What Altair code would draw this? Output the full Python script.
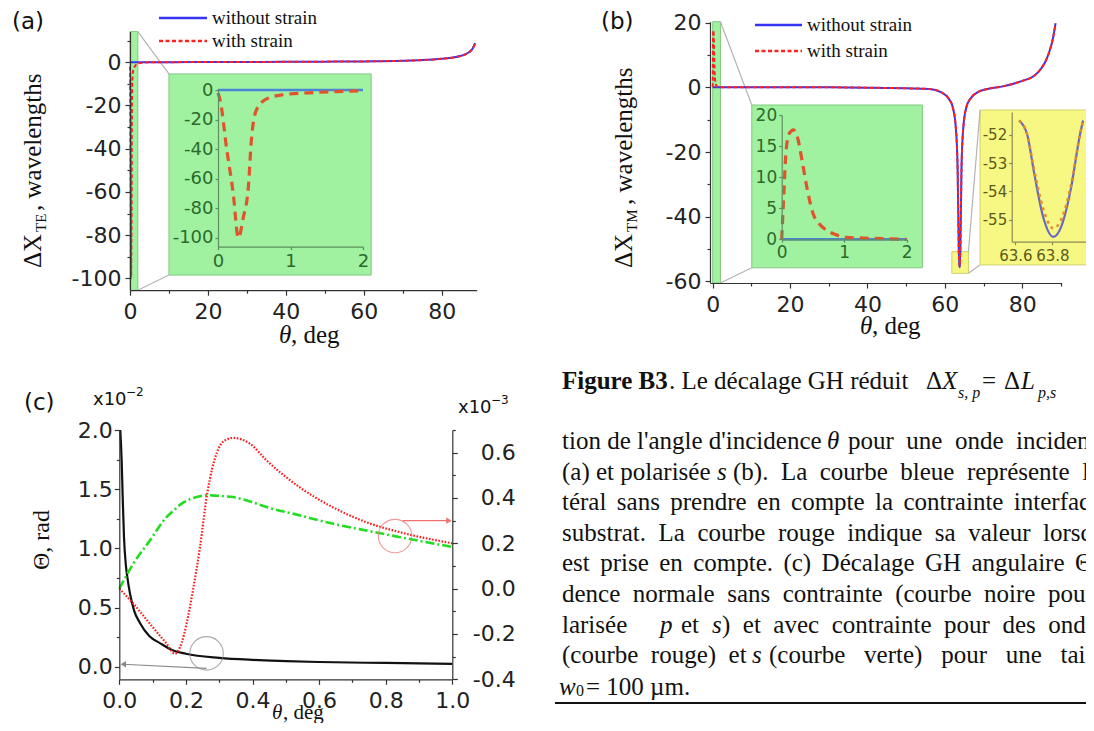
import altair as alt
import pandas as pd

W, H = 1078, 715
M = 8
SANS = "DejaVu Sans"
SERIF = "Liberation Serif"

# ---------------- data ----------------
# (a) TE polarisation
a_theta = [0, 0.03, 0.12, 0.21, 0.28, 0.35, 0.42, 0.46, 0.53, 0.67, 0.9, 1.36, 2,
           5, 10, 20, 30, 40, 50, 60, 70, 75, 80, 83, 85, 86, 87, 88, 88.6]
a_nostrain = [0, 0, 0, 0, 0, 0, 0, 0, 0, 0, 0, 0, 0,
              0, 0.05, 0.1, 0.15, 0.2, 0.3, 0.4, 0.7, 1.0, 1.6, 2.2, 3.0, 3.6, 4.6, 6.5, 8.9]
a_strain = [-2, -7, -40, -70, -100, -86, -65, -34, -13.5, -6, -3.2, -1.6, -0.5,
            0, 0.05, 0.1, 0.15, 0.2, 0.3, 0.4, 0.7, 1.0, 1.6, 2.2, 3.0, 3.6, 4.6, 6.5, 8.9]

# (b) TM polarisation
b_theta = [0, 0.03, 0.07, 0.12, 0.19, 0.25, 0.32, 0.4, 0.5, 0.6, 0.71, 0.85, 1.03, 1.3, 1.6, 2.0,
           5, 10, 20, 30, 40, 50, 56, 59, 61, 62, 62.8, 63.3, 63.6, 63.62, 63.664, 63.7, 63.75,
           63.805, 63.85, 63.9, 63.949, 63.966, 64.0, 64.3, 64.8, 65.6, 66.6, 68.5, 71,
           75, 80, 83, 85, 86, 87, 88, 88.6]
b_nostrain = [0, 0, 0, 0, 0, 0, 0, 0, 0, 0, 0, 0, 0, 0, 0, 0,
              0, 0, 0, 0, -0.1, -0.3, -0.5, -1.5, -3.5, -6, -12, -25, -50.6, -51.5, -52.0, -53.3, -54.9,
              -55.6, -55.2, -53.9, -52.0, -51.5, -50.5, -25, -12, -6, -3.5, -1.5, -0.5,
              0.3, 2.0, 3.5, 6.0, 8.0, 11.0, 15.5, 19.8]
b_strain = [0, 6.3, 14.3, 17.0, 17.6, 16.5, 13.0, 8.5, 4.2, 2.5, 1.5, 0.8, 0.3, 0.2, 0.1, 0,
            0, 0, 0, 0, -0.1, -0.3, -0.5, -1.5, -3.5, -6, -12, -25, -50.6, -51.5, -52.0, -53.2, -54.6,
            -55.3, -54.95, -53.8, -52.0, -51.5, -50.5, -25, -12, -6, -3.5, -1.5, -0.5,
            0.3, 2.0, 3.5, 6.0, 8.0, 11.0, 15.5, 19.8]

# (c) angular GH shift
c_theta0 = [0.003, 0.007, 0.01, 0.014, 0.02, 0.025, 0.032, 0.045, 0.062, 0.09, 0.122, 0.16,
            0.2, 0.3, 0.4, 0.5, 0.6, 0.8, 1.0]
c_nostrain = [2.0, 1.75, 1.45, 1.1, 0.85, 0.74, 0.62, 0.47, 0.37, 0.26, 0.2, 0.14,
              0.11, 0.075, 0.058, 0.048, 0.04, 0.032, 0.025]          # x10^-2 rad
c_theta = [0, 0.042, 0.092, 0.142, 0.167, 0.187, 0.202, 0.222, 0.242, 0.264, 0.293, 0.313,
           0.342, 0.392, 0.442, 0.54, 0.64, 0.74, 0.84, 1.0]
c_p_strain = [0.0, -0.066, -0.155, -0.243, -0.287, -0.24, -0.155, 0.0, 0.18, 0.42, 0.6, 0.65,
              0.665, 0.64, 0.566, 0.449, 0.36, 0.294, 0.25, 0.2]      # x10^-3 rad
c_s_strain = [0.0, 0.11, 0.213, 0.316, 0.35, 0.375, 0.388, 0.4, 0.408, 0.412, 0.41, 0.408,
              0.404, 0.385, 0.36, 0.324, 0.287, 0.257, 0.228, 0.184]  # x10^-3 rad

a_ticks_x = [0, 20, 40, 60, 80]
a_ticks_y = [-100, -80, -60, -40, -20, 0]
b_ticks_y = [-60, -40, -20, 0, 20]
ai_ticks_y = [-100, -80, -60, -40, -20, 0]
bi_ticks_y = [0, 5, 10, 15, 20]
by_ticks_x = [63.6, 63.8]
by_ticks_y = [-55, -54, -53, -52]
c_ticks_x = [0, 0.2, 0.4, 0.6, 0.8, 1.0]
c_ticks_l = [0, 0.5, 1.0, 1.5, 2.0]
c_ticks_r = [-0.4, -0.2, 0.0, 0.2, 0.4, 0.6]

dfA = pd.DataFrame({"theta": a_theta, "nostrain": a_nostrain, "strain": a_strain})
dfB = pd.DataFrame({"theta": b_theta, "nostrain": b_nostrain, "strain": b_strain})
dfC0 = pd.DataFrame({"theta": c_theta0, "v": c_nostrain})
dfC = pd.DataFrame({"theta": c_theta, "p": c_p_strain, "s": c_s_strain})


def P(v):
    return v - M


def sc(d0, d1, r0, r1):
    return alt.Scale(domain=[d0, d1], range=[P(r0), P(r1)], zero=False, nice=False)


def ax(orient, pos, values, size=22, color="#222222", line="#333333", fmt="d",
       tick=5, pad=4, labels=True, domain=True, font=SANS, width=1.2, align=None):
    if orient == "bottom":
        off = P(pos) - H
    elif orient == "left":
        off = -P(pos)
    else:
        off = P(pos) - W
    kw = dict(orient=orient, offset=off, values=values, grid=False, title=None,
              labels=labels, domain=domain, ticks=True, tickSize=tick, tickColor=line,
              tickWidth=width, domainColor=line, domainWidth=width, labelFont=font,
              labelFontSize=size, labelColor=color, labelPadding=pad, labelFlush=False,
              labelOverlap=False, zindex=1,
              labelExpr="replace(format(datum.value, '%s'), '\u2212', '-')" % fmt)
    if align:
        kw["labelAlign"] = align
    return alt.Axis(**kw)


def line(df, ycol, xs, ys, color, width=2, dash=None, filt=None, xaxis=None, yaxis=None,
         interp="monotone"):
    mk = dict(color=color, strokeWidth=width, interpolate=interp)
    if dash:
        mk["strokeDash"] = dash
    ch = alt.Chart(df).mark_line(**mk)
    if filt is not None:
        ch = ch.transform_filter(filt)
    return ch.encode(x=alt.X("theta:Q", scale=xs, axis=xaxis),
                     y=alt.Y(ycol + ":Q", scale=ys, axis=yaxis))


def axis_only(xs, ys, xaxis=None, yaxis=None, xv=0, yv=0):
    d = pd.DataFrame({"x": [xv], "y": [yv]})
    return alt.Chart(d).mark_point(opacity=0).encode(
        x=alt.X("x:Q", scale=xs, axis=xaxis), y=alt.Y("y:Q", scale=ys, axis=yaxis))


def rects(df, xs, ys, fill, stroke):
    return alt.Chart(df).mark_rect(fill=fill, stroke=stroke, strokeWidth=1).encode(
        x=alt.X("x:Q", scale=xs, axis=None), x2="x2:Q",
        y=alt.Y("y:Q", scale=ys, axis=None), y2="y2:Q")


def segs(df, xs, ys, color, width=1.2):
    return alt.Chart(df).mark_rule(color=color, strokeWidth=width).encode(
        x=alt.X("x:Q", scale=xs, axis=None), x2="x2:Q",
        y=alt.Y("y:Q", scale=ys, axis=None), y2="y2:Q")


def T(s, x, y, size, font=SERIF, color="#111111", align="left", italic=False, bold=False,
      angle=0, baseline="middle"):
    mk = dict(text=s, font=font, fontSize=size, color=color, align=align, baseline=baseline)
    if italic:
        mk["fontStyle"] = "italic"
    if bold:
        mk["fontWeight"] = "bold"
    if angle:
        mk["angle"] = angle
    return alt.Chart(pd.DataFrame({"k": [0]})).mark_text(**mk).encode(
        x=alt.value(P(x)), y=alt.value(P(y)))


def hrule(x1, x2, y, color, width=2, dash=None):
    mk = dict(color=color, strokeWidth=width)
    if dash:
        mk["strokeDash"] = dash
    return alt.Chart(pd.DataFrame({"k": [0]})).mark_rule(**mk).encode(
        x=alt.value(P(x1)), x2=alt.value(P(x2)), y=alt.value(P(y)))


def J(s, extra):
    # widen word gaps (justified text): SVG collapses plain spaces, so add unicode spaces
    return s.replace(" ", " " + extra)


BLUE, RED = "#3434f2", "#ff2020"
GFILL, GSTROKE = "#a0f2a0", "#80c880"
YFILL, YSTROKE = "#f7f784", "#d0d06a"
GRAYLINE = "#b4b4b4"
INSET_LAB, INSET_LINE = "#2c6a2c", "#5f8f5f"

layers = []

# ================= panel (a) =================
xsA = sc(0, 89, 130, 476.7)
ysA = sc(-105.5, 14.2, 290.2, 31.6)
xsAi = sc(0, 2, 218, 363)
ysAi = sc(-106, 0.7, 246.7, 89)

a_rects = pd.DataFrame({"x": [0, 10.0], "x2": [2, 61.9], "y": [-105.5, -98.5], "y2": [14.2, -5.4]})
a_conn = pd.DataFrame({"x": [2, 2], "x2": [10.0, 10.0], "y": [14.2, -105.5], "y2": [-5.4, -98.5]})
layers += [rects(a_rects, xsA, ysA, GFILL, GSTROKE), segs(a_conn, xsA, ysA, GRAYLINE)]
layers += [
    line(dfA, "nostrain", xsA, ysA, BLUE, 2,
         xaxis=ax("bottom", 290.2, a_ticks_x, pad=6), yaxis=ax("left", 130, a_ticks_y)),
    line(dfA, "strain", xsA, ysA, RED, 2, dash=[4, 2.5]),
    axis_only(xsA, ysA,
              xaxis=ax("bottom", 290.2, [10, 30, 50, 70], tick=3, labels=False, domain=False),
              yaxis=ax("left", 130, [-90, -70, -50, -30, -10, 10], tick=3, labels=False, domain=False)),
]
# inset (a)
layers += [
    line(dfA, "nostrain", xsAi, ysAi, "#4a86d8", 2.5, filt=alt.datum.theta <= 2.01,
         xaxis=ax("bottom", 246.7, [0, 1, 2], size=18, color=INSET_LAB, line=INSET_LINE, tick=3, pad=3),
         yaxis=ax("left", 218, ai_ticks_y, size=18, color=INSET_LAB, line=INSET_LINE, tick=3, pad=2)),
    line(dfA, "strain", xsAi, ysAi, "#e0532b", 3.2, dash=[9, 6], filt=alt.datum.theta <= 2.01),
]

# ================= panel (b) =================
xsB = sc(-0.7, 90.2, 710, 1061.7)
ysB = sc(-60.5, 20.3, 283, 21.7)
xsBi = sc(0, 2, 781.7, 906.7)
ysBi = sc(0, 20, 239.3, 115)
xsBy = sc(63.58, 64.0, 1011.7, 1089.4)
ysBy = sc(-55.77, -51.2, 241.7, 112)

b_grect = pd.DataFrame({"x": [0, 10.1], "x2": [2, 54.2], "y": [-60.5, -55.8], "y2": [20.3, -5.46]})
b_yrect = pd.DataFrame({"x": [61.8, 69.1], "x2": [66.1, 100], "y": [-57.5, -54.9], "y2": [-50.8, -7.0]})
b_conn = pd.DataFrame({"x": [2, 2, 66.1, 66.1], "x2": [10.1, 10.1, 69.1, 69.1],
                       "y": [20.3, -60.5, -50.8, -57.5], "y2": [-5.46, -55.8, -7.0, -54.9]})
layers += [rects(b_grect, xsB, ysB, GFILL, GSTROKE), rects(b_yrect, xsB, ysB, YFILL, YSTROKE),
           segs(b_conn, xsB, ysB, GRAYLINE)]
layers += [
    line(dfB, "nostrain", xsB, ysB, BLUE, 2,
         xaxis=ax("bottom", 283, a_ticks_x, pad=6), yaxis=ax("left", 710, b_ticks_y)),
    line(dfB, "strain", xsB, ysB, RED, 2, dash=[4, 2.5]),
    axis_only(xsB, ysB,
              xaxis=ax("bottom", 283, [10, 30, 50, 70, 90], tick=3, labels=False, domain=False),
              yaxis=ax("left", 710, [-50, -30, -10, 10], tick=3, labels=False, domain=False)),
]
# inset (b) green
layers += [
    line(dfB, "nostrain", xsBi, ysBi, "#4a86d8", 2.5, filt=alt.datum.theta <= 2.01,
         xaxis=ax("bottom", 239.3, [0, 1, 2], size=17, color=INSET_LAB, line=INSET_LINE, tick=3, pad=2),
         yaxis=ax("left", 781.7, bi_ticks_y, size=17, color=INSET_LAB, line=INSET_LINE, tick=3, pad=2)),
    line(dfB, "strain", xsBi, ysBi, "#e0532b", 3.2, dash=[9, 6], filt=alt.datum.theta <= 2.01),
]
# inset (b) yellow
yfilt = (alt.datum.theta >= 63.615) & (alt.datum.theta <= 63.97)
layers += [
    line(dfB, "nostrain", xsBy, ysBy, "#6868c4", 2.2, filt=yfilt,
         xaxis=ax("bottom", 241.7, by_ticks_x, size=15, color="#5a5a1e", line="#8a8a55", fmt=".1f", tick=3, pad=4),
         yaxis=ax("left", 1011.7, by_ticks_y, size=15, color="#5a5a1e", line="#8a8a55", tick=3, pad=2)),
    line(dfB, "strain", xsBy, ysBy, "#e48a2c", 2.5, dash=[3, 4], filt=yfilt),
]

# ================= panel (c) =================
xsC = sc(0, 1, 119.3, 452.3)
ysCL = sc(-0.106, 2.0, 679.3, 430)
ysCR = sc(-0.4, 0.7, 679.3, 430)

layers += [
    line(dfC0, "v", xsC, ysCL, "#111111", 2.2,
         xaxis=ax("bottom", 679.3, c_ticks_x, fmt=".1f", pad=6),
         yaxis=ax("left", 119.3, c_ticks_l, fmt=".1f", pad=2)),
    axis_only(xsC, ysCL,
              xaxis=ax("bottom", 679.3, [0.1, 0.3, 0.5, 0.7, 0.9], tick=3, labels=False, domain=False),
              yaxis=ax("left", 119.3, [0.25, 0.75, 1.25, 1.75], tick=3, labels=False, domain=False)),
    line(dfC, "s", xsC, ysCR, "#22dd22", 2.6, dash=[9, 3, 2, 3],
         yaxis=ax("right", 452.3, c_ticks_r, fmt=".1f", pad=58, align="right")),
    line(dfC, "p", xsC, ysCR, "#ff1a1a", 2.2, dash=[1.6, 1.6]),
    axis_only(xsC, ysCR,
              yaxis=ax("right", 452.3, [-0.3, -0.1, 0.1, 0.3, 0.5, 0.7], tick=3, labels=False, domain=False)),
]
# circles + arrows
red_mark = pd.DataFrame({"x": [0.828], "y": [0.232]})
gray_mark = pd.DataFrame({"x": [0.262], "y": [0.113]})
red_arrow = pd.DataFrame({"x": [0.851], "x2": [0.99], "y": [0.3], "y2": [0.3]})
gray_arrow = pd.DataFrame({"x": [0.262], "x2": [0.01], "y": [-0.0135], "y2": [0.021]})
layers += [
    alt.Chart(red_mark).mark_point(shape="circle", size=1120, color="#f07070", strokeWidth=1.1).encode(
        x=alt.X("x:Q", scale=xsC, axis=None), y=alt.Y("y:Q", scale=ysCR, axis=None)),
    segs(red_arrow, xsC, ysCR, "#f07070", 1.1),
    alt.Chart(pd.DataFrame({"x": [0.99], "y": [0.3]})).mark_point(
        shape="triangle-right", size=40, filled=True, color="#f07070", opacity=1).encode(
        x=alt.X("x:Q", scale=xsC, axis=None), y=alt.Y("y:Q", scale=ysCR, axis=None)),
    alt.Chart(gray_mark).mark_point(shape="circle", size=1120, color="#8a8a8a", strokeWidth=1.1).encode(
        x=alt.X("x:Q", scale=xsC, axis=None), y=alt.Y("y:Q", scale=ysCL, axis=None)),
    segs(gray_arrow, xsC, ysCL, "#8a8a8a", 1.1),
    alt.Chart(pd.DataFrame({"x": [0.012], "y": [0.021]})).mark_point(
        shape="triangle-left", size=40, filled=True, color="#8a8a8a", opacity=1).encode(
        x=alt.X("x:Q", scale=xsC, axis=None), y=alt.Y("y:Q", scale=ysCL, axis=None)),
]

# ================= texts =================
layers += [
    T("(a)", 12, 22, 23, font=SANS),
    T("(b)", 601, 22, 23, font=SANS),
    T("(c)", 24, 403, 23, font=SANS),
    # legends
    hrule(159, 207, 18, BLUE, 2.5), hrule(159, 207, 41, RED, 2.5, dash=[4, 2.5]),
    T("without strain", 212, 18, 19), T("with strain", 212, 41, 19),
    hrule(755, 802, 25, BLUE, 2.5), hrule(755, 802, 51, RED, 2.5, dash=[4, 2.5]),
    T("without strain", 807, 25, 19), T("with strain", 807, 51, 19),
    # axis titles (a)
    T("θ", 279, 335, 25, italic=True), T(", deg", 291, 335, 25),
    T("ΔX", 33, 268, 25, angle=270), T("TE", 41, 232, 15, angle=270),
    T(", wavelengths", 33, 211, 25, angle=270),
    # axis titles (b)
    T("θ", 860, 326, 25, italic=True), T(", deg", 872, 326, 25),
    T("ΔX", 624, 268, 25, angle=270), T("TM", 632, 232, 15, angle=270),
    T(", wavelengths", 624, 205, 25, angle=270),
    # axis titles (c)
    T("θ", 272, 713, 21, italic=True), T(", deg", 283, 713, 21),
    T("Θ, rad", 42, 540, 24, angle=270, align="center"),
    T("x10", 93, 400, 18, font=SANS), T("−2", 126, 392, 12, font=SANS),
    T("x10", 458, 408, 18, font=SANS), T("−3", 491, 400, 12, font=SANS),
]

# caption
CAP = 25
S4, S6, S2 = "\u2005", "\u2006", "\u2005\u2005"
cap_lines = [381, 441, 472, 502, 533, 563, 594, 625, 655, 687]
layers += [
    T("Figure B3", 562, cap_lines[0], CAP, bold=True),
    T(". Le décalage GH réduit", 669, cap_lines[0], CAP),
    T("Δ", 926, cap_lines[0], CAP), T("X", 942, cap_lines[0], CAP, italic=True),
    T("s, p", 958, cap_lines[0] + 12, 16, italic=True),
    T("=", 982, cap_lines[0], CAP), T("Δ", 1004, cap_lines[0], CAP),
    T("L", 1021, cap_lines[0], CAP, italic=True),
    T("p,s", 1038, cap_lines[0] + 12, 16, italic=True),
    T("tion de l'angle d'incidence", 562, cap_lines[1], CAP),
    T("θ", 827, cap_lines[1], CAP, italic=True),
    T(J("pour une onde incidente polarisée", S4), 848, cap_lines[1], CAP),
    T("(a) et polarisée", 562, cap_lines[2], CAP),
    T("s", 717, cap_lines[2], CAP, italic=True),
    T(J("(b). La courbe bleue représente le décalage", S4), 733, cap_lines[2], CAP),
    T(J("téral sans prendre en compte la contrainte interfaciale", S6), 562, cap_lines[3], CAP),
    T(J("substrat. La courbe rouge indique sa valeur lorsque la", S4), 562, cap_lines[4], CAP),
    T(J("est prise en compte. (c) Décalage GH angulaire Θ en", S6), 562, cap_lines[5], CAP),
    T(J("dence normale sans contrainte (courbe noire pour des", S4), 562, cap_lines[6], CAP),
    T("larisée", 562, cap_lines[7], CAP), T("p", 660, cap_lines[7], CAP, italic=True),
    T("et", 681, cap_lines[7], CAP), T("s", 712, cap_lines[7], CAP, italic=True),
    T(J(") et avec contrainte pour des ondes", S4), 722, cap_lines[7], CAP),
    T(J("(courbe rouge) et", S4), 562, cap_lines[8], CAP), T("s", 752, cap_lines[8], CAP, italic=True),
    T(J("(courbe verte) pour une taille", S2), 769, cap_lines[8], CAP),
    T("w", 559, cap_lines[9], CAP, italic=True), T("0", 576, cap_lines[9] + 4, 16),
    T("= 100 µm.", 586, cap_lines[9], CAP),
    hrule(555, 1100, 703, "#111111", 2),
]

chart = alt.layer(*layers).resolve_scale(x="independent", y="independent").resolve_axis(
    x="independent", y="independent").properties(
    width=W, height=H, autosize=alt.AutoSizeParams(type="none"), padding=0,
    background="white").configure_view(stroke=None)

chart.save("out.html", embed_options={"renderer": "svg", "actions": False})
